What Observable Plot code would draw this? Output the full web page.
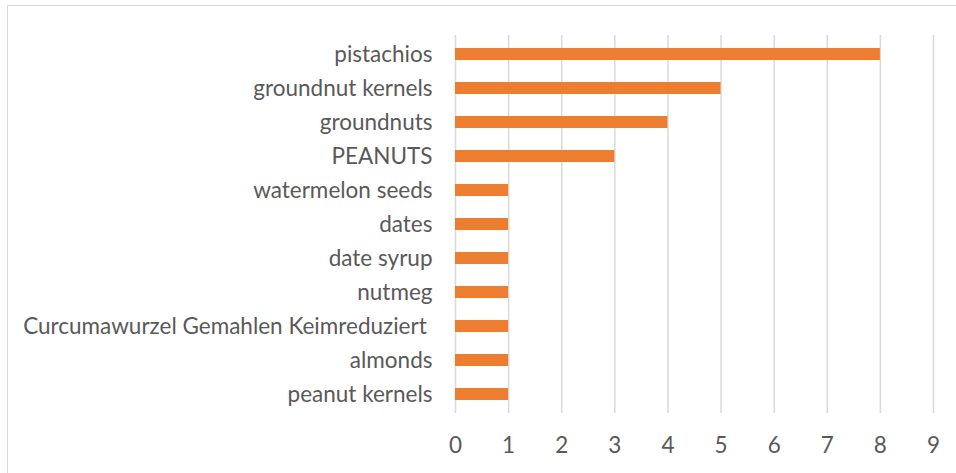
<!DOCTYPE html>
<html>
<head>
<meta charset="utf-8">
<script src="https://cdn.jsdelivr.net/npm/d3@7"></script>
<script src="https://cdn.jsdelivr.net/npm/@observablehq/plot@0.6"></script>
<style>
  html, body { margin: 0; padding: 0; background: #fff; }
  #wrap { position: relative; width: 956px; height: 473px; overflow: hidden; }
  #border { position: absolute; left: 7px; top: 5px; width: 1000px; height: 1000px; border: 1.5px solid #d9d9d9; box-sizing: border-box; pointer-events: none; }
  svg text { white-space: pre; }
</style>
</head>
<body>
<div id="wrap"><div id="border"></div></div>
<script>
const categories = [
  "pistachios",
  "groundnut kernels",
  "groundnuts",
  "PEANUTS",
  "watermelon seeds",
  "dates",
  "date syrup",
  "nutmeg",
  "Curcumawurzel Gemahlen Keimreduziert ",
  "almonds",
  "peanut kernels"
];
const counts = [8, 5, 4, 3, 1, 1, 1, 1, 1, 1, 1];
const xTicks = [0, 1, 2, 3, 4, 5, 6, 7, 8, 9];

const data = categories.map((c, i) => ({category: c, count: counts[i]}));

const chart = Plot.plot({
  width: 956,
  height: 473,
  marginLeft: 455,
  marginRight: 23,
  marginTop: 35,
  marginBottom: 60,
  style: {fontFamily: "Lato, 'Open Sans', sans-serif", fontSize: "22.5px", color: "#595959", background: "transparent"},
  x: {domain: [0, 9], ticks: xTicks, label: null},
  y: {domain: categories, paddingInner: 0.65, paddingOuter: 0.325, label: null},
  marks: [
    Plot.ruleX(xTicks, {stroke: "#d9d9d9", strokeWidth: 1.5}),
    Plot.barX(data, {x: "count", y: "category", fill: "#ED7D31"}),
    Plot.axisX({ticks: xTicks, tickSize: 0, tickPadding: 24, label: null, fill: "#595959"}),
    Plot.axisY({tickSize: 0, tickPadding: 23, label: null, fill: "#595959"})
  ]
});
document.getElementById("wrap").appendChild(chart);
</script>
</body>
</html>
